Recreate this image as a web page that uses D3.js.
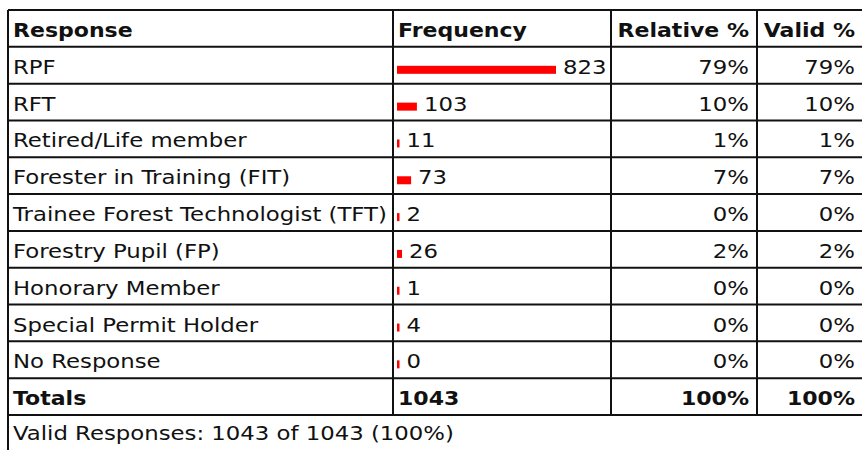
<!DOCTYPE html>
<html><head><meta charset="utf-8">
<script src="https://cdn.jsdelivr.net/npm/d3@7/dist/d3.min.js"></script>
<style>
html,body{margin:0;padding:0;background:#fff;}
svg{display:block;}
text{font-family:"DejaVu Sans",Verdana,sans-serif;fill:#111;}
</style></head>
<body><svg id="chart" width="862" height="450"></svg>
<script>
const headers = ["Response", "Frequency", "Relative %", "Valid %"];
const categories = ["RPF", "RFT", "Retired/Life member", "Forester in Training (FIT)",
  "Trainee Forest Technologist (TFT)", "Forestry Pupil (FP)", "Honorary Member",
  "Special Permit Holder", "No Response"];
const frequency = [823, 103, 11, 73, 2, 26, 1, 4, 0];
const relativePct = ["79%", "10%", "1%", "7%", "0%", "2%", "0%", "0%", "0%"];
const validPct = ["79%", "10%", "1%", "7%", "0%", "2%", "0%", "0%", "0%"];
const totals = ["Totals", "1043", "100%", "100%"];
const footer = "Valid Responses: 1043 of 1043 (100%)";

const svg = d3.select("#chart");
const fs = 19;
const sxReg = 1.2, sxBold = 1.16;  // widen DejaVu glyphs to Verdana-like proportions
const colEdges = [8, 393, 611, 757, 863];
const nRows = categories.length + 2;
const y = d3.scaleLinear().domain([0, nRows]).range([10, 415]);
const base = 27;

const maxF = d3.max(frequency);
const x = d3.scaleLinear().domain([0, maxF]).range([0, 159]);
const barW = v => Math.max(2.5, x(v));

function label(g, px, py, txt, opts = {}) {
  const sx = opts.bold ? sxBold : sxReg;
  return g.append("text")
    .attr("x", px / sx).attr("y", py)
    .attr("transform", `scale(${sx},1)`)
    .attr("text-anchor", opts.end ? "end" : "start")
    .attr("font-size", fs)
    .attr("font-weight", opts.bold ? "bold" : "normal")
    .text(txt);
}

// header
const hdr = svg.append("g");
headers.forEach((h, i) => {
  const right = i >= 2;
  label(hdr, right ? colEdges[i + 1] - 8 : colEdges[i] + 5, y(0) + base, h,
    {end: right, bold: true});
});

// data rows
const rows = svg.append("g").selectAll("g").data(categories).join("g")
  .attr("transform", (d, i) => `translate(0,${y(i + 1)})`);
rows.each(function(d, i) {
  const g = d3.select(this);
  label(g, colEdges[0] + 5, base, d);
  g.append("rect")
    .attr("x", colEdges[1] + 4).attr("y", 19)
    .attr("width", barW(frequency[i]))
    .attr("height", 8).attr("fill", "#ff0000");
  label(g, colEdges[1] + 4 + barW(frequency[i]) + 7, base, frequency[i]);
  label(g, colEdges[3] - 8, base, relativePct[i], {end: true});
  label(g, colEdges[4] - 8, base, validPct[i], {end: true});
});

// totals
const tr = svg.append("g").attr("transform", `translate(0,${y(nRows - 1)})`);
totals.forEach((t, i) => {
  const right = i >= 2;
  label(tr, right ? colEdges[i + 1] - 8 : colEdges[i] + 5, base, t,
    {end: right, bold: true});
});

// footer
label(svg, colEdges[0] + 5, y(nRows) + base - 2, footer);

// grid lines
const lines = svg.append("g").attr("stroke", "#111").attr("stroke-width", 2);
d3.range(nRows + 1).forEach(i => {
  lines.append("line").attr("x1", colEdges[0]).attr("x2", colEdges[4])
    .attr("y1", y(i)).attr("y2", y(i));
});
lines.append("line").attr("x1", colEdges[0]).attr("x2", colEdges[0])
  .attr("y1", y(0)).attr("y2", 460);
colEdges.slice(1).forEach(cx => {
  lines.append("line").attr("x1", cx).attr("x2", cx)
    .attr("y1", y(0)).attr("y2", y(nRows));
});
</script></body></html>
